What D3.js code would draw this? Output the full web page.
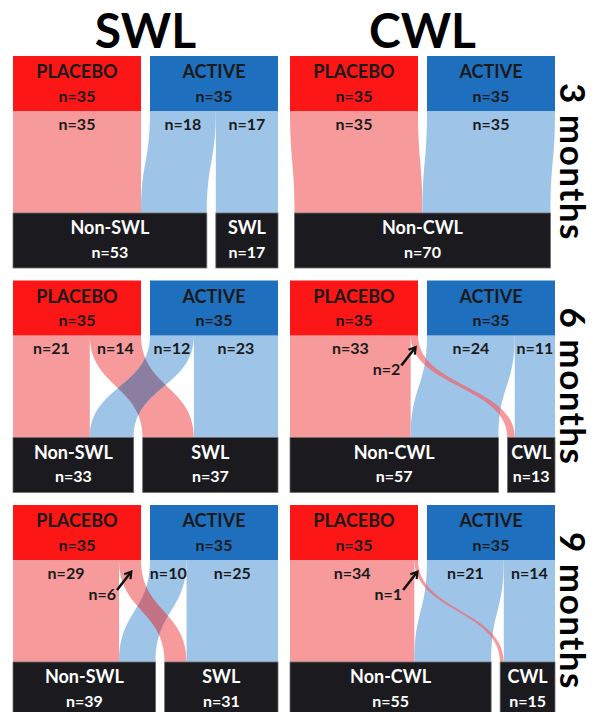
<!DOCTYPE html>
<html><head><meta charset="utf-8">
<script src="https://cdn.jsdelivr.net/npm/d3@7"></script>
<style>
body{margin:0;background:#fff}
svg{display:block}
text{font-family:Lato,"Open Sans",sans-serif;font-weight:700}
</style>
</head><body>
<svg id="c" width="596" height="712"></svg>
<script>
// ---------------- DATA ----------------
const measures = ["SWL", "CWL"];
const timepoints = ["3 months", "6 months", "9 months"];
const groups = ["PLACEBO", "ACTIVE"];
const groupSizes = [35, 35];
// flows per timepoint (3, 6, 9 months)
const swlPlaceboToNon = [35, 21, 29];
const swlPlaceboToYes = [0, 14, 6];
const swlActiveToNon  = [18, 12, 10];
const swlActiveToYes  = [17, 23, 25];
const cwlPlaceboToNon = [35, 33, 34];
const cwlPlaceboToYes = [0, 2, 1];
const cwlActiveToNon  = [35, 24, 21];
const cwlActiveToYes  = [0, 11, 14];

// ---------------- STYLE ----------------
const C = {
  red: "#fd1616", blue: "#1f6fbf", pink: "#f69a9b", lblue: "#9ec5e8",
  black: "#1b1b1f", dark: "#1a1a1a"
};
const overlapColor = {
  "SWL|6 months": "#8c7ea0", "SWL|9 months": "#c27385",
  "CWL|6 months": "#d97f90", "CWL|9 months": "#d97f90"
};
const barH = 55, botH = 55, pad = 9;

const flowData = {
  SWL: {pn: swlPlaceboToNon, py: swlPlaceboToYes, an: swlActiveToNon, ay: swlActiveToYes},
  CWL: {pn: cwlPlaceboToNon, py: cwlPlaceboToYes, an: cwlActiveToNon, ay: cwlActiveToYes}
};

const svg = d3.select("#c");
const defs = svg.append("defs");
defs.append("marker").attr("id", "ah").attr("viewBox", "0 0 10 10")
  .attr("refX", 7.5).attr("refY", 5).attr("markerWidth", 4).attr("markerHeight", 4)
  .attr("orient", "auto")
  .append("path").attr("d", "M1.5,1 L8,5 L1.5,9").attr("fill", "none")
  .attr("stroke", "#111").attr("stroke-width", 2.2).attr("stroke-linejoin", "miter");

const rowScale = d3.scaleBand().domain(timepoints).range([56, 717]).paddingInner(0.0557);
const colScale = d3.scaleBand().domain(measures).range([13, 555]).paddingInner(0.0433);
const u = d3.scaleLinear().domain([0, groupSizes[0]]).range([0, 128]);

function layout(nodes, x0, w) {
  const total = d3.sum(nodes, d => u(d.value)) + (nodes.length - 1) * pad;
  let x = x0 + (w - total) / 2;
  nodes.forEach(n => { n.x0 = x; n.x1 = x + u(n.value); n.off = n.x0; x = n.x1 + pad; });
}

function band(sx0, sx1, tx0, tx1, y0, y1) {
  const ym = (y0 + y1) / 2, p = d3.path();
  p.moveTo(sx0, y0); p.lineTo(sx1, y0);
  p.bezierCurveTo(sx1, ym, tx1, ym, tx1, y1);
  p.lineTo(tx0, y1);
  p.bezierCurveTo(tx0, ym, sx0, ym, sx0, y0);
  p.closePath();
  return p.toString();
}

// titles
measures.forEach(m => {
  svg.append("text").attr("x", colScale(m) + colScale.bandwidth() / 2).attr("y", 48)
    .attr("text-anchor", "middle").attr("font-size", 48).attr("fill", "#000").text(m);
});
// month labels
timepoints.forEach(t => {
  const cy = rowScale(t) + rowScale.bandwidth() / 2;
  svg.append("text").attr("transform", `translate(560,${cy}) rotate(90)`)
    .attr("text-anchor", "middle").attr("font-size", 35).attr("letter-spacing", 1.5)
    .attr("fill", "#000").text(t);
});

let clipId = 0;
measures.forEach(m => {
  timepoints.forEach((t, ti) => {
    const g = svg.append("g");
    const x0 = colScale(m), w = colScale.bandwidth();
    const yTop = rowScale(t), yB = yTop + barH;
    const yBot = yTop + rowScale.bandwidth() - botH;
    const f = flowData[m];
    const src = groups.map((name, i) => ({name, value: groupSizes[i], color: i ? C.blue : C.red, flow: i ? C.lblue : C.pink}));
    const tgtAll = [{name: "Non-" + m, value: f.pn[ti] + f.an[ti]}, {name: m, value: f.py[ti] + f.ay[ti]}];
    const tgt = tgtAll.filter(d => d.value > 0);
    layout(src, x0, w); layout(tgt, x0, w);
    const tNon = tgtAll[0], tYes = tgtAll[1];
    const links = [
      {s: src[0], t: tNon, value: f.pn[ti], key: "pn"},
      {s: src[0], t: tYes, value: f.py[ti], key: "py"},
      {s: src[1], t: tNon, value: f.an[ti], key: "an"},
      {s: src[1], t: tYes, value: f.ay[ti], key: "ay"}
    ].filter(l => l.value > 0);
    links.forEach(l => {
      l.sx0 = l.s.off; l.sx1 = l.sx0 + u(l.value); l.s.off = l.sx1;
      l.tx0 = l.t.off; l.tx1 = l.tx0 + u(l.value); l.t.off = l.tx1;
      l.d = band(l.sx0, l.sx1, l.tx0, l.tx1, yB, yBot);
    });
    // flows
    links.forEach(l => g.append("path").attr("d", l.d).attr("fill", l.s.flow));
    // overlap of crossing flows
    const cross = links.find(l => l.key === "py"), under = links.find(l => l.key === "an");
    if (cross && under) {
      const id = "clip" + (clipId++);
      defs.append("clipPath").attr("id", id).append("path").attr("d", under.d);
      g.append("path").attr("d", cross.d).attr("clip-path", `url(#${id})`)
        .attr("fill", overlapColor[m + "|" + t]);
    }
    // top bars
    src.forEach(n => {
      g.append("rect").attr("x", n.x0).attr("y", yTop).attr("width", n.x1 - n.x0).attr("height", barH).attr("fill", n.color);
      const cx = (n.x0 + n.x1) / 2;
      g.append("text").attr("x", cx).attr("y", yTop + 16).attr("dy", "0.35em").attr("text-anchor", "middle")
        .attr("font-size", 18).attr("fill", C.dark).text(n.name);
      g.append("text").attr("x", cx).attr("y", yTop + 40).attr("dy", "0.35em").attr("text-anchor", "middle")
        .attr("font-size", 16).attr("fill", C.dark).text("n=" + n.value);
    });
    // bottom bars
    tgt.forEach(n => {
      g.append("rect").attr("x", n.x0).attr("y", yBot).attr("width", n.x1 - n.x0).attr("height", botH)
        .attr("fill", C.black).attr("stroke", "#6e6e6e").attr("stroke-width", 0.8);
      const cx = (n.x0 + n.x1) / 2;
      g.append("text").attr("x", cx).attr("y", yBot + 15).attr("dy", "0.35em").attr("text-anchor", "middle")
        .attr("font-size", 18).attr("fill", "#fff").text(n.name);
      g.append("text").attr("x", cx).attr("y", yBot + 39).attr("dy", "0.35em").attr("text-anchor", "middle")
        .attr("font-size", 16).attr("fill", "#fff").text("n=" + n.value);
    });
    // flow labels
    links.forEach(l => {
      const cx = (l.sx0 + l.sx1) / 2;
      if (l.value >= 8) {
        g.append("text").attr("x", cx).attr("y", yB + 13).attr("dy", "0.35em").attr("text-anchor", "middle")
          .attr("font-size", 16).attr("fill", C.dark).text("n=" + l.value);
      } else {
        g.append("text").attr("x", cx - 14).attr("y", yB + 34).attr("dy", "0.35em").attr("text-anchor", "end")
          .attr("font-size", 16).attr("fill", C.dark).text("n=" + l.value);
        g.append("line").attr("x1", cx - 13).attr("y1", yB + 30).attr("x2", cx + 1).attr("y2", yB + 12)
          .attr("stroke", "#111").attr("stroke-width", 2.5).attr("marker-end", "url(#ah)");
      }
    });
  });
});
</script>
</body></html>
